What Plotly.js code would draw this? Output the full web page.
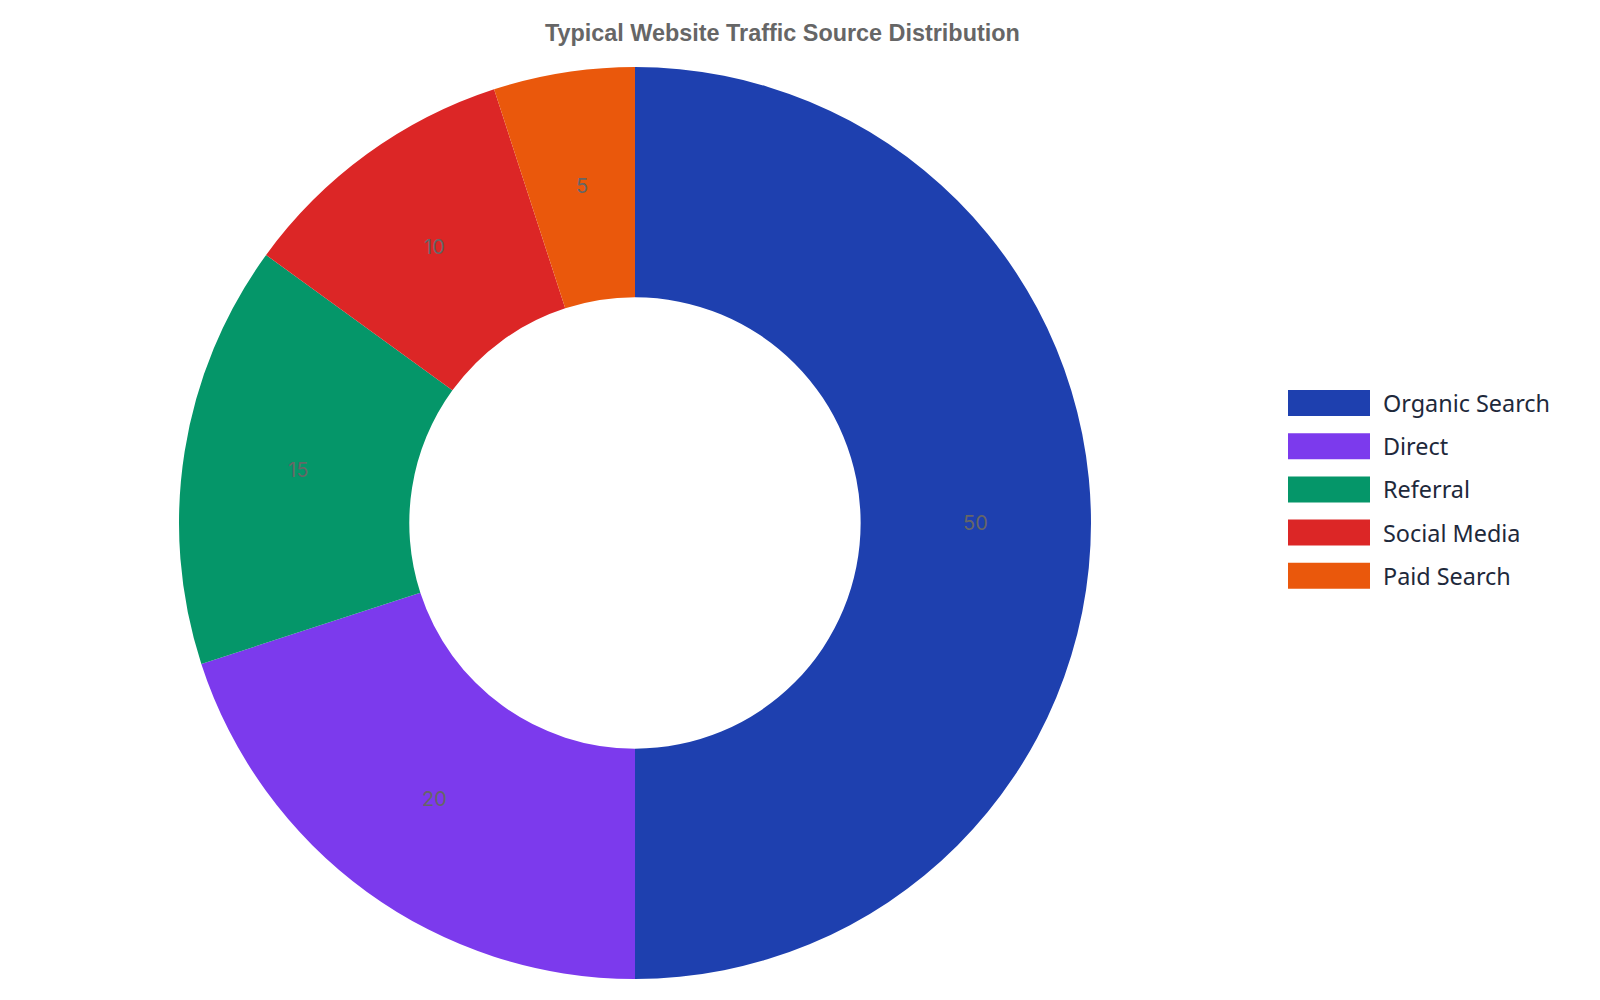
<!DOCTYPE html>
<html>
<head>
<meta charset="utf-8">
<script src="https://cdn.plot.ly/plotly-3.0.1.min.js"></script>
<style>
  html, body { margin: 0; padding: 0; background: #fff; }
  #chart { width: 1600px; height: 1000px; }
</style>
</head>
<body>
<div id="chart"></div>
<script>
// traffic share per source, in percent
const sources = ['Organic Search', 'Direct', 'Referral', 'Social Media', 'Paid Search']
const shares = [50, 20, 15, 10, 5]
const colors = ['#1e40af', '#7c3aed', '#059669', '#dc2626', '#ea580c']

const W = 1600, H = 1000
const margin = { t: 67, b: 21, l: 179, r: 509 }
const plotW = W - margin.l - margin.r
const plotH = H - margin.t - margin.b
const hole = 0.495

// pixel -> paper helpers (paper spans the plot area)
const px = (x) => (x - margin.l) / plotW
const py = (y) => (H - margin.b - y) / plotH

const trace = {
  type: 'pie',
  labels: sources,
  values: shares,
  hole: hole,
  sort: false,
  direction: 'clockwise',
  rotation: 0,
  marker: { colors: colors, line: { width: 0 } },
  textinfo: 'none',
  hoverinfo: 'label+value+percent',
  showlegend: false
}

// value labels at the middle of each ring segment
const total = shares.reduce((a, b) => a + b, 0)
const ringMid = (1 + hole) / 2
let cum = 0
const valueLabels = shares.map((v) => {
  const theta = 2 * Math.PI * (cum + v / 2) / total
  cum += v
  return {
    xref: 'paper', yref: 'paper',
    x: 0.5 + 0.5 * ringMid * Math.sin(theta),
    y: 0.5 + 0.5 * ringMid * Math.cos(theta),
    xanchor: 'center', yanchor: 'middle',
    text: String(v),
    showarrow: false,
    font: { family: 'Inter, sans-serif', size: 20, color: '#666666' }
  }
})

// legend: wide swatches + labels
const legX = 1288, legSwatchW = 82, legSwatchH = 26, legTop = 403, legStep = 43.2
const legendShapes = sources.map((s, i) => ({
  type: 'rect', xref: 'paper', yref: 'paper',
  x0: px(legX), x1: px(legX + legSwatchW),
  y0: py(legTop + i * legStep + legSwatchH / 2),
  y1: py(legTop + i * legStep - legSwatchH / 2),
  fillcolor: colors[i], line: { width: 0 }
}))
const legendLabels = sources.map((s, i) => ({
  xref: 'paper', yref: 'paper',
  x: px(legX + legSwatchW + 11), y: py(legTop + i * legStep),
  xanchor: 'left', yanchor: 'middle',
  text: s, showarrow: false,
  font: { family: 'Noto Sans, sans-serif', size: 23.4, color: '#1e293b' }
}))

const layout = {
  width: W,
  height: H,
  margin: margin,
  paper_bgcolor: '#ffffff',
  plot_bgcolor: '#ffffff',
  title: {
    text: '<b>Typical Website Traffic Source Distribution</b>',
    font: { family: 'Liberation Sans, Arial, sans-serif', size: 23.4, color: '#666666' },
    x: 0.489,
    xanchor: 'center',
    y: 0.967,
    yanchor: 'middle'
  },
  showlegend: false,
  shapes: legendShapes,
  annotations: valueLabels.concat(legendLabels)
}

Plotly.newPlot('chart', [trace], layout, { displayModeBar: false, staticPlot: true })
</script>
</body>
</html>
